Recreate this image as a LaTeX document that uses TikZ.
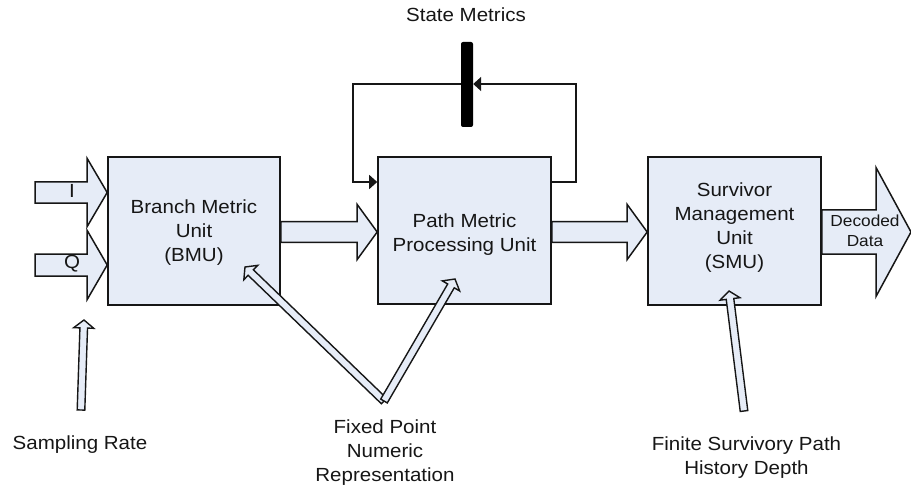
\documentclass[tikz,border=0pt]{standalone}
\usepackage{fontspec}
\setmainfont{Liberation Sans}[FakeStretch=1.08]
\usetikzlibrary{calc,arrows.meta}
\definecolor{unitfill}{RGB}{230,236,247}
\definecolor{edge}{RGB}{22,22,22}

% Outline ("hollow") arrow from #2 to #3 drawn with style #1:
% #4 = half shaft width, #5 = half head width, #6 = head length
\newcommand\blockarrow[6]{%
  \coordinate (ba-base) at ($(#3)!#6!(#2)$);
  \draw[#1] ($(#2)!#4!90:(#3)$) -- ($(ba-base)!#4!-90:(#2)$)
    -- ($(ba-base)!#5!-90:(#2)$) -- (#3)
    -- ($(ba-base)!#5!90:(#2)$) -- ($(ba-base)!#4!90:(#2)$)
    -- ($(#2)!#4!-90:(#3)$) -- cycle;}

\begin{document}
\begin{tikzpicture}[x=1pt,y=-1pt,
  unit/.style={draw=edge, line width=1.6pt, fill=unitfill, inner sep=0pt},
  txt/.style={inner sep=0pt, align=center, text=edge, font=\fontsize{19}{24}\selectfont},
  smalltxt/.style={inner sep=0pt, align=center, text=edge, font=\fontsize{16}{20}\selectfont},
  blk/.style={draw=edge, line width=1.5pt, fill=unitfill, line join=miter},
  thin/.style={draw=edge, line width=1.4pt, fill=unitfill, line join=miter},
  fb/.style={draw=edge, line width=1.6pt},
  fbtip/.style={-{Triangle[length=8pt,width=14pt]}},
  register/.style={fill=black, rounded corners=2pt, minimum width=12pt, minimum height=85pt, inner sep=0pt}]

\useasboundingbox (0,0) rectangle (911,492);

% processing units
\node[unit, minimum width=172pt, minimum height=148pt] (bmu) at (194,231) {};
\node[unit, minimum width=173pt, minimum height=147pt] (pmpu) at (464.5,230.5) {};
\node[unit, minimum width=173pt, minimum height=148pt] (smu) at (734.5,231) {};

\node[txt] (bmu-t) at (194,233) {Branch Metric\\Unit\\(BMU)};
\node[txt] (pmpu-t) at (464.5,235) {Path Metric\\Processing Unit};
\node[txt] (smu-t) at (734.5,228) {Survivor\\Management\\Unit\\(SMU)};

% inputs I and Q
\coordinate (i-in) at (35,192.5);
\coordinate (q-in) at (35,265);
\blockarrow{blk}{i-in}{bmu.west |- i-in}{10.7pt}{34pt}{20pt}
\blockarrow{blk}{q-in}{bmu.west |- q-in}{11pt}{34.5pt}{20pt}
\node[txt] (i-lbl) at (72,191) {I};
\node[txt] (q-lbl) at (72,264) {Q};

% data path between units
\coordinate (mid) at (0,232);
\blockarrow{blk}{bmu.east |- mid}{pmpu.west |- mid}{10.3pt}{27.5pt}{20pt}
\blockarrow{blk}{pmpu.east |- mid}{smu.west |- mid}{10.3pt}{27.5pt}{20pt}

% output
\coordinate (out) at (911,232);
\blockarrow{blk}{smu.east |- mid}{out}{22pt}{64.5pt}{35pt}
\node[smalltxt] (out-t) at (865,231) {Decoded\\Data};

% state metric feedback through the register
\node[register] (reg) at (467,84.5) {};
\node[txt] (reg-t) at (466,15) {State Metrics};
\coordinate (loop-y) at (0,182);
\coordinate (loop-r) at (576,84);
\coordinate (loop-l) at (353,84);
\draw[fb, fbtip] (pmpu.east |- loop-y) -| (loop-r) -- (reg.east |- loop-r);
\draw[fb, fbtip] (reg.west |- loop-l) -- (loop-l) |- (pmpu.west |- loop-y);

% design parameters
\node[txt] (sr-t) at (80,445) {Sampling Rate};
\coordinate (sr-foot) at (81,410);
\coordinate (sr-tip) at (84,320);
\blockarrow{thin}{sr-foot}{sr-tip}{3.8pt}{10pt}{8pt}

\node[txt] (fx-t) at (385,453) {Fixed Point\\Numeric\\Representation};
\coordinate (fx-foot) at (384,401);
\coordinate (fx-tip1) at (245,267);
\coordinate (fx-tip2) at (455,279);
\blockarrow{thin}{fx-foot}{fx-tip1}{3.8pt}{10pt}{8pt}
\blockarrow{thin}{fx-foot}{fx-tip2}{3.8pt}{10pt}{8pt}

\node[txt] (hd-t) at (746.5,458) {Finite Survivory Path\\History Depth};
\coordinate (hd-foot) at (744,411);
\coordinate (hd-tip) at (729,291);
\blockarrow{thin}{hd-foot}{hd-tip}{3.8pt}{10pt}{8pt}

\end{tikzpicture}
\end{document}
